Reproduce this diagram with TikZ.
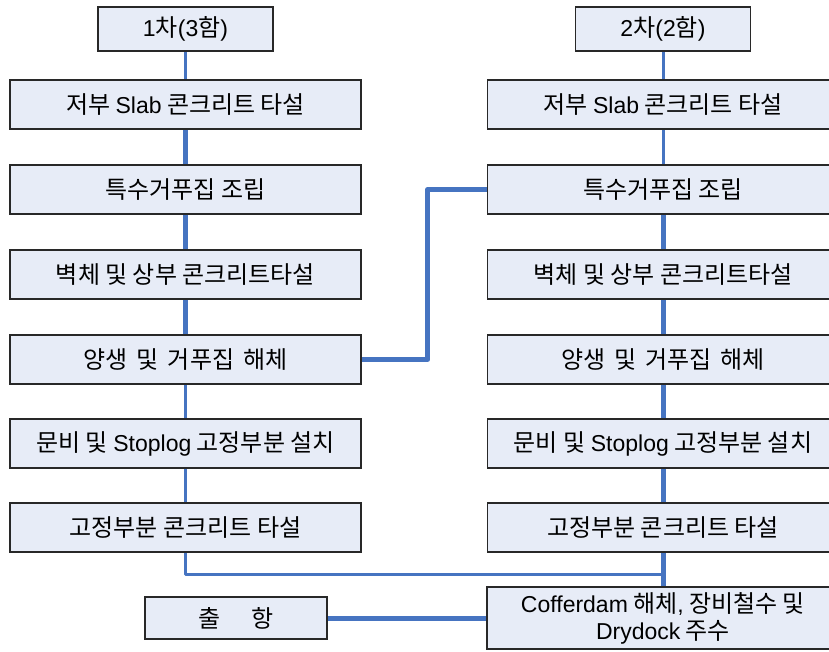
\documentclass[tikz,border=0pt]{standalone}
\usepackage{fontspec}
\setmainfont{Noto Sans CJK KR}
\newfontfamily\latinface{Liberation Sans}
\usetikzlibrary{backgrounds}
\definecolor{flowblue}{RGB}{70,116,193}
\definecolor{boxfill}{RGB}{231,236,247}
\definecolor{boxline}{RGB}{40,40,40}
% Latin words are set in a sans face of Arial widths
\newcommand\lw[1]{{\latinface\fontsize{23}{27}\selectfont #1}}
\begin{document}
\begin{tikzpicture}[x=1pt,y=-1pt,
  box/.style={draw=boxline, line width=1.2pt, fill=boxfill, inner sep=0pt,
    font=\fontsize{24}{27}\selectfont, text=black, align=center},
  wide/.style={box, minimum width=351pt, minimum height=49pt},
  head/.style={box, minimum width=175pt, minimum height=44pt},
  thinlink/.style={draw=flowblue, line width=3pt, line cap=round, line join=round},
  thicklink/.style={draw=flowblue, line width=5pt, line cap=round, line join=round}]
\useasboundingbox (0,0) rectangle (829,651);
\clip (0,0) rectangle (829,651);

% first batch (3 units)
\node[head] (LH) at (185.5,29) {\lw{1}차\lw{(3}함\lw{)}};
\node[wide] (L1) at (185.5,104.5) {저부 \lw{Slab} 콘크리트 타설};
\node[wide] (L2) at (185.5,189.5) {특수거푸집 조립};
\node[wide] (L3) at (185.5,274.5) {벽체 및 상부 콘크리트타설};
\node[wide] (L4) at (185.5,359.5) {양생\hspace{9pt}및\hspace{9pt}거푸집\hspace{9pt}해체};
\node[wide] (L5) at (185.5,443.5) {문비 및 \lw{Stoplog} 고정부분 설치};
\node[wide] (L6) at (185.5,527.5) {고정부분 콘크리트 타설};

% second batch (2 units)
\node[head] (RH) at (663,29) {\lw{2}차\lw{(2}함\lw{)}};
\node[wide] (R1) at (663,104.5) {저부 \lw{Slab} 콘크리트 타설};
\node[wide] (R2) at (663,189.5) {특수거푸집 조립};
\node[wide] (R3) at (663,274.5) {벽체 및 상부 콘크리트타설};
\node[wide] (R4) at (663,359.5) {양생\hspace{9pt}및\hspace{9pt}거푸집\hspace{9pt}해체};
\node[wide] (R5) at (663,443.5) {문비 및 \lw{Stoplog} 고정부분 설치};
\node[wide] (R6) at (663,527.5) {고정부분 콘크리트 타설};
\node[box, minimum width=352pt, minimum height=62pt] (R7) at (663,618)
  {\lw{Cofferdam} 해체\lw{,} 장비철수 및\\\lw{Drydock} 주수};

% departure
\node[box, minimum width=182pt, minimum height=42pt] (OUT) at (236,618)
  {출\hspace{30pt}항};

\path (R6.south) ++(0,22) coordinate (J);

\begin{scope}[on background layer]
  % left column
  \draw[thinlink]  (LH.south) -- (L1.north);
  \draw[thicklink] (L1.south) -- (L2.north);
  \draw[thicklink] (L2.south) -- (L3.north);
  \draw[thicklink] (L3.south) -- (L4.north);
  \draw[thinlink]  (L4.south) -- (L5.north);
  \draw[thinlink]  (L5.south) -- (L6.north);
  \draw[thinlink]  (L6.south) |- (J);
  % right column
  \draw[thinlink]  (RH.south) -- (R1.north);
  \draw[thinlink]  (R1.south) -- (R2.north);
  \draw[thicklink] (R2.south) -- (R3.north);
  \draw[thicklink] (R3.south) -- (R4.north);
  \draw[thicklink] (R4.south) -- (R5.north);
  \draw[thicklink] (R5.south) -- (R6.north);
  \draw[thicklink] (R6.south) -- (R7.north);
  % cross links
  \draw[thicklink] (L4.east) -- ++(66,0) |- (R2.west);
  \draw[thicklink] (OUT.east) -- (R7.west);
\end{scope}
\end{tikzpicture}
\end{document}
